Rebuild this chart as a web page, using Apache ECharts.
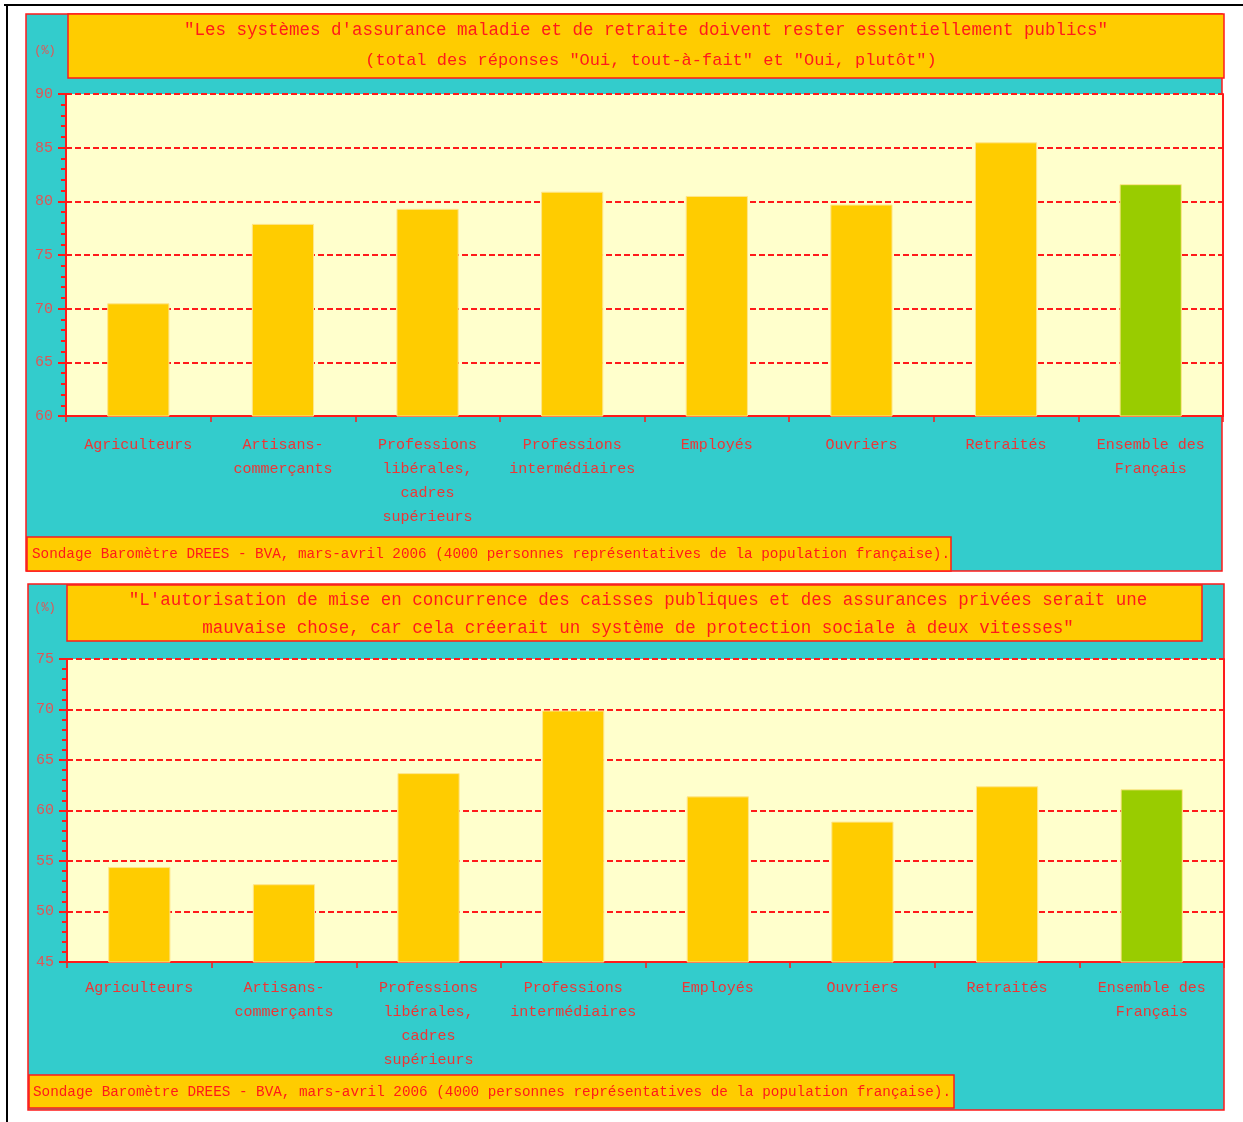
<!DOCTYPE html>
<html lang="fr">
<head>
<meta charset="utf-8">
<title>Baromètre DREES - BVA 2006</title>
<script src="https://cdn.jsdelivr.net/npm/echarts@6/dist/echarts.min.js"></script>
<style>
  html, body { margin: 0; padding: 0; background: #ffffff; }
  #chart { width: 1243px; height: 1122px; }
</style>
</head>
<body>
<div id="chart"></div>
<script>
// Socio-professional categories (shared by both panels)
const categories = [
  'Agriculteurs',
  'Artisans-\ncommerçants',
  'Professions\nlibérales,\ncadres\nsupérieurs',
  'Professions\nintermédiaires',
  'Employés',
  'Ouvriers',
  'Retraités',
  'Ensemble des\nFrançais'
];

// Panel 1: share answering yes (%)
const publicSystemsShare = [70.5, 77.9, 79.3, 80.9, 80.5, 79.7, 85.5, 81.6];
// Panel 2: share agreeing (%)
const twoSpeedShare = [54.4, 52.7, 63.7, 69.9, 61.4, 58.9, 62.4, 62.1];

// Value axis ranges
const axis1 = { min: 60, max: 90, interval: 5 };
const axis2 = { min: 45, max: 75, interval: 5 };

const title1 = [
  '"Les systèmes d\'assurance maladie et de retraite doivent rester essentiellement publics"',
  '(total des réponses "Oui, tout-à-fait" et "Oui, plutôt")'
];
const title2 = [
  '"L\'autorisation de mise en concurrence des caisses publiques et des assurances privées serait une',
  'mauvaise chose, car cela créerait un système de protection sociale à deux vitesses"'
];
const sourceText = 'Sondage Baromètre DREES - BVA, mars-avril 2006 (4000 personnes représentatives de la population française).';
const unitText = '(%)';

const RED = '#FF1A1A';
const TEAL = '#33CCCC';
const GOLD = '#FFCC00';
const CREAM = '#FFFFCC';
const GREEN = '#99CC00';
const MONO = '"Liberation Mono", "DejaVu Sans Mono", monospace';

function barData(values) {
  return values.map((v, i) => ({
    value: v,
    itemStyle: { color: i === values.length - 1 ? GREEN : GOLD }
  }));
}

function rect(x, y, w, h, fill, z) {
  return {
    type: 'rect', z: z, silent: true,
    shape: { x: x, y: y, width: w, height: h },
    style: { fill: fill, stroke: RED, lineWidth: 1.5 }
  };
}

function text(str, x, y, size, align, color) {
  return {
    type: 'text', z: 10, silent: true, x: x, y: y,
    style: {
      text: str, fill: color || RED,
      font: size + 'px ' + MONO,
      align: align, verticalAlign: 'middle',
      textAlign: align, textVerticalAlign: 'middle'
    }
  };
}

function valueAxis(gridIndex, range, left) {
  return {
    type: 'value', gridIndex: gridIndex,
    position: left ? 'left' : 'right',
    min: range.min, max: range.max, interval: range.interval,
    axisLine: { show: true, lineStyle: { color: RED, width: 2 } },
    axisTick: { show: left, length: 8, lineStyle: { color: RED, width: 2 } },
    minorTick: { show: left, splitNumber: 5, length: 5, lineStyle: { color: RED, width: 2 } },
    axisLabel: {
      show: left, margin: 13, color: '#E25555',
      fontFamily: MONO, fontSize: 15
    },
    splitLine: {
      show: left,
      lineStyle: { color: RED, width: 2, type: [6, 3] }
    }
  };
}

function categoryAxis(gridIndex, margin) {
  return {
    type: 'category', gridIndex: gridIndex, data: categories,
    axisLine: { show: true, lineStyle: { color: RED, width: 2 } },
    axisTick: { show: true, length: 6, lineStyle: { color: RED, width: 1.5 } },
    axisLabel: {
      interval: 0, margin: margin, color: '#EE3535',
      fontFamily: MONO, fontSize: 15, lineHeight: 24
    }
  };
}

const chart = echarts.init(document.getElementById('chart'), null, { renderer: 'canvas' });

chart.setOption({
  animation: false,
  backgroundColor: '#ffffff',
  grid: [
    { left: 66, top: 94, width: 1157, height: 322, show: true, backgroundColor: CREAM, borderWidth: 0 },
    { left: 67, top: 659, width: 1157, height: 303, show: true, backgroundColor: CREAM, borderWidth: 0 }
  ],
  xAxis: [categoryAxis(0, 17), categoryAxis(1, 14)],
  yAxis: [
    valueAxis(0, axis1, true), valueAxis(0, axis1, false),
    valueAxis(1, axis2, true), valueAxis(1, axis2, false)
  ],
  series: [
    {
      type: 'bar', xAxisIndex: 0, yAxisIndex: 0, barWidth: '43%',
      data: barData(publicSystemsShare),
      itemStyle: { borderColor: '#FFE58A', borderWidth: 1 }
    },
    {
      type: 'bar', xAxisIndex: 1, yAxisIndex: 2, barWidth: '43%',
      data: barData(twoSpeedShare),
      itemStyle: { borderColor: '#FFE58A', borderWidth: 1 }
    }
  ],
  graphic: [
    // page frame lines
    { type: 'line', silent: true, z: -30, shape: { x1: 4, y1: 5, x2: 1243, y2: 5 }, style: { stroke: '#000000', lineWidth: 2 } },
    { type: 'line', silent: true, z: -30, shape: { x1: 7, y1: 5, x2: 7, y2: 1122 }, style: { stroke: '#000000', lineWidth: 2 } },

    // panel 1
    rect(26, 14, 1196, 557, TEAL, -20),
    rect(68, 14, 1156, 64, GOLD, -10),
    rect(27, 537, 924, 34, GOLD, -10),
    text(title1[0], 646, 30, 17.5, 'center'),
    text(title1[1], 651, 60, 17, 'center'),
    text(unitText, 45, 51, 12, 'center', '#E25555'),
    text(sourceText, 32, 554, 14.3, 'left'),

    // panel 2
    rect(28, 584, 1196, 526, TEAL, -20),
    rect(67, 585, 1135, 56, GOLD, -10),
    rect(29, 1075, 925, 33, GOLD, -10),
    text(title2[0], 638, 600, 17.5, 'center'),
    text(title2[1], 638, 628, 17.5, 'center'),
    text(unitText, 45, 608, 12, 'center', '#E25555'),
    text(sourceText, 33, 1092, 14.3, 'left')
  ]
});
</script>
</body>
</html>
